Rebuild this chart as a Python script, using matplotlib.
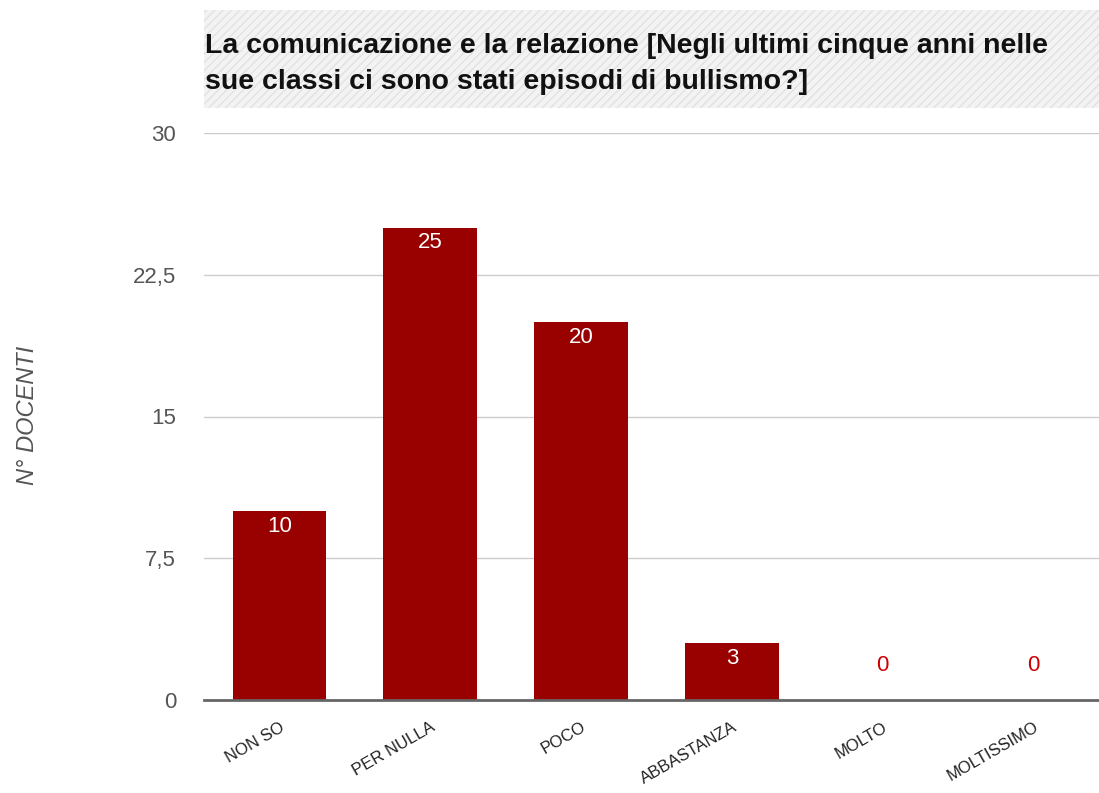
import matplotlib
matplotlib.use("Agg")
import matplotlib.pyplot as plt
from matplotlib.patches import Rectangle

categorie = ["NON SO", "PER NULLA", "POCO", "ABBASTANZA", "MOLTO", "MOLTISSIMO"]
docenti = [10, 25, 20, 3, 0, 0]
y_ticks = [0, 7.5, 15, 22.5, 30]
y_tick_labels = ["0", "7,5", "15", "22,5", "30"]
titolo = "La comunicazione e la relazione [Negli ultimi cinque anni nelle\nsue classi ci sono stati episodi di bullismo?]"

plt.rcParams["font.family"] = ["Liberation Sans", "DejaVu Sans"]

W, H = 1099, 793
fig = plt.figure(figsize=(W / 100, H / 100), dpi=100)

# title band with diagonal stripes
band = Rectangle((204 / W, (H - 108) / H), (W - 204) / W, 98 / H,
                 transform=fig.transFigure, facecolor="#f3f3f3",
                 edgecolor="#e2e2e2", hatch="////", linewidth=0, zorder=0)
fig.patches.append(band)
fig.text(205 / W, (H - 33) / H, titolo, fontsize=20.5, fontweight="bold",
         color="#111111", va="top", ha="left", linespacing=1.48)

ax = fig.add_axes([204 / W, (H - 700) / H, (W - 204) / W, 567 / H])
ax.set_facecolor("none")
x = list(range(len(categorie)))
ax.bar(x, docenti, width=0.62, color="#990000", zorder=2)

ax.set_xlim(-0.5, -0.5 + (W - 204) / 150.8)
ax.set_ylim(0, 30)
ax.set_yticks(y_ticks)
ax.set_yticklabels(y_tick_labels, fontsize=16, color="#555555")
ax.yaxis.grid(True, color="#cccccc", linewidth=1, zorder=0)
ax.tick_params(axis="y", length=0, pad=20)
ax.tick_params(axis="x", length=0, pad=14)
ax.set_xticks(x)
ax.set_xticklabels(categorie, rotation=30, ha="right", rotation_mode="anchor",
                   fontsize=12, color="#222222")

for s in ["top", "right", "left"]:
    ax.spines[s].set_visible(False)
ax.spines["bottom"].set_color("#666666")
ax.spines["bottom"].set_linewidth(2)
ax.spines["bottom"].set_zorder(3)

for xi, v in zip(x, docenti):
    if v > 0:
        ax.annotate(str(v), (xi, v), xytext=(0, -11), textcoords="offset points",
                    ha="center", va="center", color="white", fontsize=16, zorder=4)
    else:
        ax.annotate(str(v), (xi, v), xytext=(0, 25), textcoords="offset points",
                    ha="center", va="center", color="#cc0000", fontsize=16, zorder=4)

fig.text(28 / W, (H - 415) / H, "N° DOCENTI", rotation=90, fontsize=17,
         style="italic", color="#555555", ha="center", va="center")

fig.savefig("out.png", dpi=100)
